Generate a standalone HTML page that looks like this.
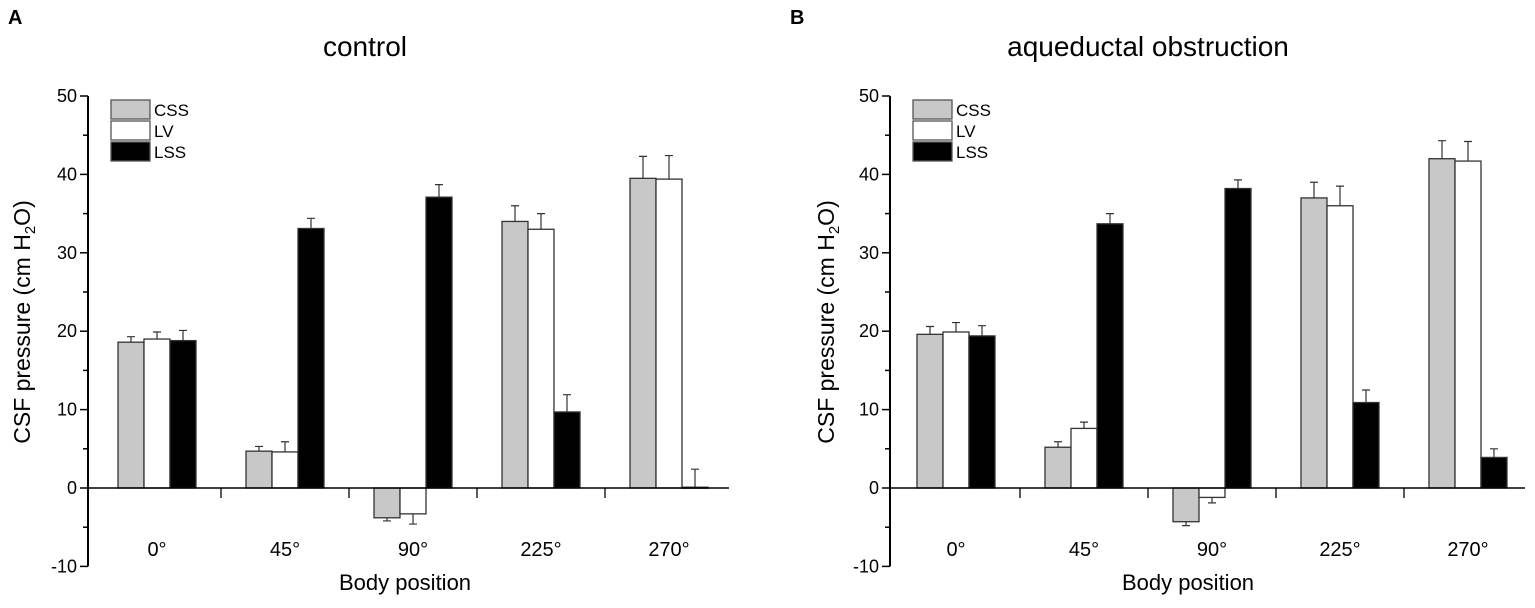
<!DOCTYPE html>
<html><head><meta charset="utf-8"><style>
html,body{margin:0;padding:0;background:#fff;}
svg{display:block;font-family:"Liberation Sans",Arial,sans-serif;}
</style></head><body>
<svg id="svg" width="1535" height="608" viewBox="0 0 1535 608" xmlns="http://www.w3.org/2000/svg">
<text x="8" y="24" font-size="20" font-weight="bold">A</text>
<text x="790" y="24" font-size="20" font-weight="bold">B</text>
</svg>
<script>
const categories = ["0°","45°","90°","225°","270°"];
const seriesNames = ["CSS","LV","LSS"];
const seriesFill = ["#c8c8c8","#ffffff","#000000"];
const yTicks = [-10,0,10,20,30,40,50];
const ctrlCSS = [18.6,4.7,-3.8,34.0,39.5];
const ctrlCSSErr = [0.7,0.6,0.4,2.0,2.8];
const ctrlLV = [19.0,4.6,-3.3,33.0,39.4];
const ctrlLVErr = [0.9,1.3,1.3,2.0,3.0];
const ctrlLSS = [18.8,33.1,37.1,9.7,0.1];
const ctrlLSSErr = [1.3,1.3,1.6,2.2,2.3];
const obsCSS = [19.6,5.2,-4.3,37.0,42.0];
const obsCSSErr = [1.0,0.7,0.5,2.0,2.3];
const obsLV = [19.9,7.6,-1.2,36.0,41.7];
const obsLVErr = [1.2,0.8,0.7,2.5,2.5];
const obsLSS = [19.4,33.7,38.2,10.9,3.9];
const obsLSSErr = [1.3,1.3,1.1,1.6,1.1];

const NS="http://www.w3.org/2000/svg";
const svg=document.getElementById('svg');
function mk(tag,attrs,parent){const e=document.createElementNS(NS,tag);for(const k in attrs)e.setAttribute(k,attrs[k]);(parent||svg).appendChild(e);return e;}

function drawPanel(p){
  const g=mk('g',{});
  
  
  const y=v=>488-(v)*7.84;
  const band=128, bw=26;
  const cx=i=>p.bandStart+band*i+band/2;
  const t=mk('text',{x:p.titleX,y:56,'font-size':28,'text-anchor':'middle'},g);
  t.textContent=p.title;
  
  
  const vals=p.series, errs=p.errs;
  for(let s=0;s<3;s++){
    for(let i=0;i<categories.length;i++){
      const v=vals[s][i], e=errs[s][i];
      const x=cx(i)-39+s*bw;
      const top=Math.min(y(v),y(0)), h=Math.abs(y(v)-y(0));
      const r=mk('rect',{x:x,y:top,width:bw,height:Math.max(h,1),fill:seriesFill[s],stroke:'#333','stroke-width':1.3},g);
      
      
      const ey=v>=0?y(v+e):y(v-e);
      const l=mk('path',{d:`M${x+bw/2},${y(v)}V${ey}M${x+bw/2-4},${ey}H${x+bw/2+4}`,stroke:'#333','stroke-width':1.2,fill:'none'},g);
      
      
    }
  }
  const ax=mk('line',{x1:p.axisX,y1:y(50),x2:p.axisX,y2:y(-10),stroke:'#000','stroke-width':2},g);
  
  
  for(let v=-10;v<=50;v+=5){
    mk('line',{x1:p.axisX-(v%10===0?8:5),y1:y(v),x2:p.axisX,y2:y(v),stroke:'#000','stroke-width':1.5},g);
  }
  yTicks.forEach(v=>{
    const tx=mk('text',{x:p.axisX-11,y:y(v)+6,'font-size':18,'text-anchor':'end'},g);
    tx.textContent=v;
    
    
  });
  const xa=mk('line',{x1:p.axisX,y1:y(0),x2:p.axisEnd,y2:y(0),stroke:'#000','stroke-width':1.5},g);
  
  
  for(let i=1;i<categories.length;i++){
    mk('line',{x1:p.bandStart+band*i,y1:y(0),x2:p.bandStart+band*i,y2:y(0)+10,stroke:'#000','stroke-width':1.3},g);
  }
  categories.forEach((c,i)=>{
    const tx=mk('text',{x:cx(i),y:556,'font-size':20,'text-anchor':'middle'},g);
    tx.textContent=c;
    
    
  });
  const xt=mk('text',{x:p.xTitleX,y:590,'font-size':22,'text-anchor':'middle'},g);
  xt.textContent='Body position';
  
  
  const yt=mk('text',{transform:`translate(${p.yTitleX},322) rotate(-90)`,'font-size':23,'text-anchor':'middle'},g);
  yt.innerHTML='CSF pressure (cm H<tspan font-size="15" dy="5">2</tspan><tspan dy="-5">O)</tspan>';
  
  
  for(let s=0;s<3;s++){
    const ly=100+s*21;
    const lr=mk('rect',{x:p.axisX+23,y:ly,width:39,height:19,fill:seriesFill[s],stroke:'#555','stroke-width':1.3},g);
    
    
    const lt=mk('text',{x:p.axisX+66,y:ly+16,'font-size':17},g);
    lt.textContent=seriesNames[s];
    
    
  }
}
drawPanel({name:'control-chart',title:'control',titleX:365,axisX:88,bandStart:93,axisEnd:729,xTitleX:405,yTitleX:30,
  series:[ctrlCSS,ctrlLV,ctrlLSS],errs:[ctrlCSSErr,ctrlLVErr,ctrlLSSErr]});
drawPanel({name:'obstruction-chart',title:'aqueductal obstruction',titleX:1148,axisX:890,bandStart:892,axisEnd:1525,xTitleX:1188,yTitleX:834,
  series:[obsCSS,obsLV,obsLSS],errs:[obsCSSErr,obsLVErr,obsLSSErr]});
</script>
</body></html>
